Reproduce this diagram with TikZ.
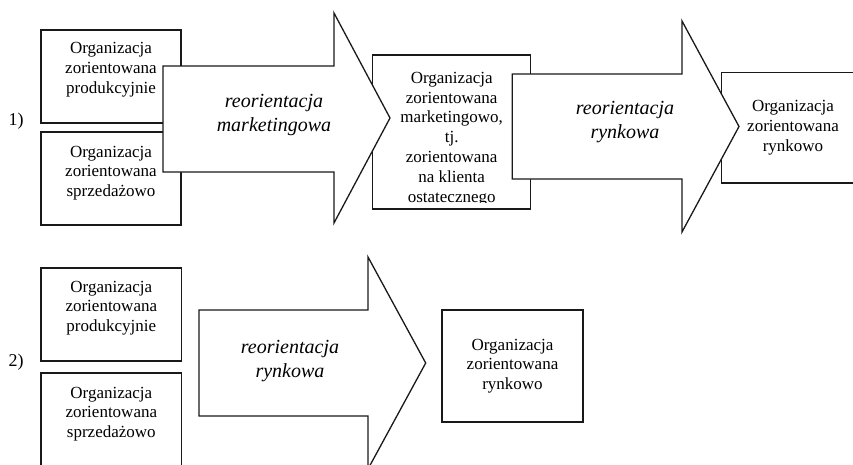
\documentclass[tikz,border=0pt]{standalone}
\usepackage{fontspec}
\setmainfont{Liberation Serif}[UprightFont=*, ItalicFont=* Italic, BoldFont=* Bold]
\usetikzlibrary{fit}
\begin{document}
\begin{tikzpicture}[x=1pt,y=-1pt,
  box/.style={draw=black!90, fill=white, line width=1.3pt, inner sep=0pt},
  arrowshape/.style={draw=black!90, fill=white, line width=1.3pt, line join=miter},
  btext/.style={align=center, inner sep=0pt, font=\fontsize{17}{19.8}\selectfont},
  atext/.style={align=center, inner sep=0pt, font=\fontsize{20}{23.5}\selectfont\itshape},
  numlabel/.style={inner sep=0pt, font=\fontsize{18}{20}\selectfont}]
\useasboundingbox (0,0) rectangle (853,464);
\clip (0,0) rectangle (853,464);

% ---------- row 1 ----------
\node[numlabel] (n1) at (16,121) {1)};
\node[box, fit={(41,30) (181,123)}] (b1) {};
\node[btext] (t1) at (111,70) {Organizacja\\zorientowana\\produkcyjnie};
\node[box, fit={(41,132) (181,225)}] (b2) {};
\node[btext] (t2) at (111,173) {Organizacja\\zorientowana\\sprzedażowo};
\node[box, fit={(372.7,55) (530.7,209)}] (b3) {};
\begin{scope}
  \clip (360,50) rectangle (540,202.5);
  \node[btext] (t3) at (451.7,139) {Organizacja\\zorientowana\\marketingowo,\\tj.\\zorientowana\\na klienta\\ostatecznego};
\end{scope}
\node[box, fit={(721.7,72.7) (880,183)}] (b4) {};
\node[btext] (t4) at (793,128) {Organizacja\\zorientowana\\rynkowo};

\draw[arrowshape] (163,66) coordinate (a1s) -- (334,66) -- (334,13) -- (390,118) coordinate (a1t)
  -- (334,223) -- (334,172) -- (163,172) -- cycle;
\node[atext] (m1) at (274,115) {reorientacja\\marketingowa};

\draw[arrowshape] (512.3,74) coordinate (a2s) -- (682,74) -- (682,21) -- (739,126.5) coordinate (a2t)
  -- (682,232) -- (682,179) -- (512.3,179) -- cycle;
\node[atext] (m2) at (625,122) {reorientacja\\rynkowa};

% ---------- row 2 ----------
\node[numlabel] (n2) at (16,362) {2)};
\node[box, fit={(41,268) (181.7,361)}] (b5) {};
\node[btext] (t5) at (111.3,308) {Organizacja\\zorientowana\\produkcyjnie};
\node[box, fit={(41,373) (181.7,480)}] (b6) {};
\node[btext] (t6) at (111.3,414) {Organizacja\\zorientowana\\sprzedażowo};

\draw[arrowshape] (199,310) coordinate (a3s) -- (368,310) -- (368,257) -- (425.7,363) coordinate (a3t)
  -- (368,469) -- (368,416) -- (199,416) -- cycle;
\node[atext] (m3) at (290,361) {reorientacja\\rynkowa};

\node[box, fit={(442,310) (583,422)}] (b7) {};
\node[btext] (t7) at (512.5,366) {Organizacja\\zorientowana\\rynkowo};
\end{tikzpicture}
\end{document}
